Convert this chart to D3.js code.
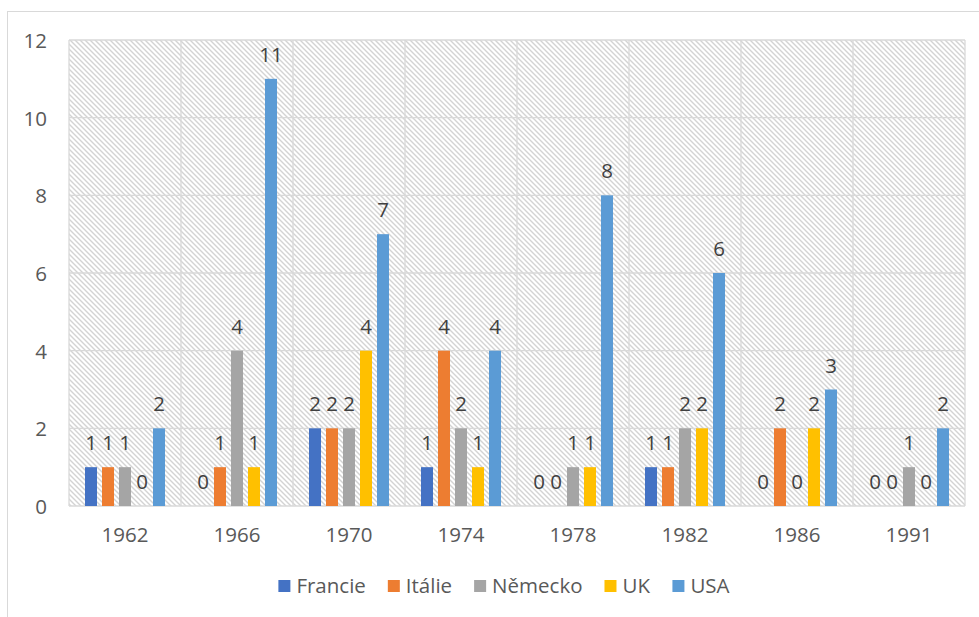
<!DOCTYPE html>
<html><head><meta charset="utf-8">
<script src="https://cdn.jsdelivr.net/npm/d3@7"></script>
<style>
body{margin:0;background:#fff;}
text{font-family:"Open Sans","Liberation Sans",Arial,sans-serif;}
</style></head>
<body><svg id="c" width="979" height="617"></svg>
<script>
const years = ["1962","1966","1970","1974","1978","1982","1986","1991"];
const seriesNames = ["Francie","Itálie","Německo","UK","USA"];
const colors = ["#4472C4","#ED7D31","#A5A5A5","#FFC000","#5B9BD5"];
const francie = [1,0,2,1,0,1,0,0];
const italie  = [1,1,2,4,0,1,2,0];
const nemecko = [1,4,2,2,1,2,0,1];
const uk      = [0,1,4,1,1,2,2,0];
const usa     = [2,11,7,4,8,6,3,2];
const yTicks  = [0,2,4,6,8,10,12];
const seriesValues = [francie, italie, nemecko, uk, usa];

(function(){
const FONT = "Open Sans, Liberation Sans, Arial, sans-serif";
const FS = 20.5;
const svg = d3.select("#c");
const pL = 69, pR = 965, pT = 40, pB = 506;

// chart border
svg.append("rect").attr("x",7.5).attr("y",11.5).attr("width",990).attr("height",640)
  .attr("fill","#fff").attr("stroke","#d9d9d9").attr("stroke-width",1);

const defs = svg.append("defs");
const pat = defs.append("pattern").attr("id","hatch").attr("patternUnits","userSpaceOnUse")
  .attr("width",5).attr("height",5);
pat.append("rect").attr("width",5).attr("height",5).attr("fill","#fff");
pat.append("path").attr("d","M-1,-1 L6,6 M-1,4 L1,6 M4,-1 L6,1")
  .attr("stroke","#d3d3d3").attr("stroke-width",1.4).attr("fill","none");

const x0 = d3.scaleBand().domain(years).range([pL,pR]).paddingInner(0).paddingOuter(0);
const y = d3.scaleLinear().domain([0,12]).range([pB,pT]);
const x1 = d3.scaleBand().domain(seriesNames).range([16, x0.bandwidth()-16]).paddingInner(5/17).paddingOuter(0);

svg.append("rect").attr("x",pL).attr("y",pT).attr("width",pR-pL).attr("height",pB-pT)
  .attr("fill","url(#hatch)");

// gridlines
const g = svg.append("g");
g.selectAll(".hg").data(yTicks).join("line")
  .attr("x1",pL).attr("x2",pR).attr("y1",d=>y(d)).attr("y2",d=>y(d))
  .attr("stroke","#d9d9d9").attr("stroke-width",1.3);
const vlines = years.map(d=>x0(d)).concat([pR]);
g.selectAll(".vg").data(vlines).join("line")
  .attr("x1",d=>d).attr("x2",d=>d).attr("y1",pT).attr("y2",pB)
  .attr("stroke","#d9d9d9").attr("stroke-width",1.3);

// y axis labels
const yAxis = d3.axisLeft(y).tickValues(yTicks).tickSize(0).tickPadding(0);
const ya = svg.append("g").attr("transform",`translate(47,0)`).call(yAxis);
ya.select(".domain").remove();
ya.selectAll("text").attr("font-size",FS).attr("fill","#595959")
  .attr("font-family",FONT).attr("dy","0.36em");

// x axis labels
const xAxis = d3.axisBottom(x0).tickSize(0).tickPadding(0);
const xa = svg.append("g").attr("transform",`translate(0,527)`).call(xAxis);
xa.select(".domain").remove();
xa.selectAll("text").attr("font-size",FS).attr("fill","#595959")
  .attr("font-family",FONT).attr("dy","0.71em");

// bars
const data = [];
years.forEach((yr,i)=>seriesNames.forEach((s,j)=>data.push({yr,s,j,v:seriesValues[j][i]})));
svg.append("g").selectAll("rect").data(data.filter(d=>d.v>0)).join("rect")
  .attr("x",d=>x0(d.yr)+x1(d.s)).attr("width",x1.bandwidth())
  .attr("y",d=>y(d.v)).attr("height",d=>y(0)-y(d.v)).attr("fill",d=>colors[d.j]);

svg.append("g").selectAll("text").data(data).join("text")
  .attr("x",d=>x0(d.yr)+x1(d.s)+x1.bandwidth()/2).attr("y",d=>y(d.v)-17)
  .attr("text-anchor","middle").attr("font-size",FS).attr("fill","#404040")
  .text(d=>d.v);

// legend
const lg = svg.append("g");
const items = lg.selectAll("g").data(seriesNames).join("g");
items.append("rect").attr("width",12).attr("height",12).attr("y",580).attr("fill",(d,i)=>colors[i]);
items.append("text").attr("x",18).attr("y",593).attr("font-size",FS).attr("fill","#595959").text(d=>d);
let widths = [];
items.each(function(){ widths.push(this.getBBox().width); });
const gap = 22;
const total = d3.sum(widths) + gap*(widths.length-1);
let cx = 504 - total/2;
items.each(function(d,i){ d3.select(this).attr("transform",`translate(${cx},0)`); cx += widths[i]+gap; });
})();
</script></body></html>
